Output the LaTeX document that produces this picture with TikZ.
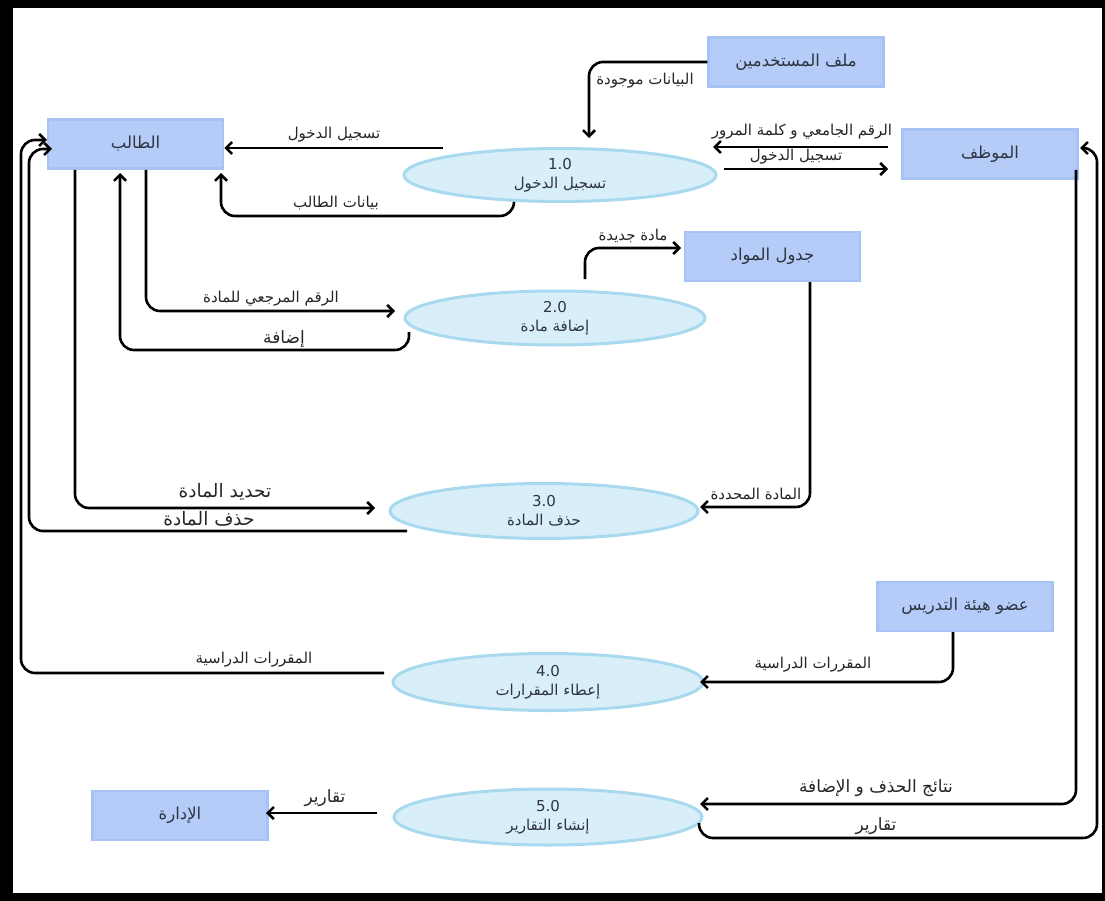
\documentclass[tikz,border=0pt]{standalone}
\usepackage{fontspec}
\setmainfont{DejaVu Sans}
\newfontfamily\arabicfont[Script=Arabic]{DejaVu Sans}
\TeXXeTstate=1
\usetikzlibrary{arrows.meta,shapes.geometric}
\definecolor{boxfill}{HTML}{B5CCF9}
\definecolor{boxline}{HTML}{A7C2F4}
\definecolor{ellfill}{HTML}{D8EFF9}
\definecolor{ellline}{HTML}{A9D9EE}
\definecolor{txt}{HTML}{2E3440}
\newcommand\artxt[1]{{\arabicfont\beginR #1\endR}}
\begin{document}
\begin{tikzpicture}[x=1pt,y=-1pt,
  entity/.style={draw=boxline, line width=2.5pt, fill=boxfill, minimum width=175pt, minimum height=49pt, inner sep=0pt, font=\fontsize{16.5}{18}\selectfont, text=txt},
  proc/.style={ellipse, draw=ellline, line width=3pt, fill=ellfill, align=center, inner sep=0pt, font=\fontsize{15}{19}\selectfont, text=txt},
  flow/.style={line width=2.6pt, rounded corners=14pt, -{Straight Barb[length=6pt,width=12pt]}},
  lbl/.style={inner sep=0pt, font=\fontsize{15}{16}\selectfont, text=black!85},
  biglbl/.style={lbl, font=\fontsize{17}{18}\selectfont},
  hugelbl/.style={lbl, font=\fontsize{18.5}{20}\selectfont}
]
\fill[black] (0,0) rectangle (1105,901);
\fill[white] (13,8) rectangle (1102,893);
\useasboundingbox (0,0) rectangle (1105,901);

% entities
\node[entity] (student) at (135.5,144) {\artxt{الطالب}};
\node[entity] (users) at (796,62) {\artxt{ملف المستخدمين}};
\node[entity] (emp) at (990,154) {\artxt{الموظف}};
\node[entity] (table) at (772.5,256.5) {\artxt{جدول المواد}};
\node[entity] (fac) at (965,606.5) {\artxt{عضو هيئة التدريس}};
\node[entity] (admin) at (180,815.5) {\artxt{الإدارة}};

% processes
\node[proc, minimum width=312pt, minimum height=53pt] (p1) at (560,175) {1.0\\\artxt{تسجيل الدخول}};
\node[proc, minimum width=300pt, minimum height=54pt] (p2) at (555,318) {2.0\\\artxt{إضافة مادة}};
\node[proc, minimum width=308pt, minimum height=55pt] (p3) at (544,511) {3.0\\\artxt{حذف المادة}};
\node[proc, minimum width=310pt, minimum height=57pt] (p4) at (548,682) {4.0\\\artxt{إعطاء المقرارات}};
\node[proc, minimum width=308pt, minimum height=56pt] (p5) at (548,817) {5.0\\\artxt{إنشاء التقارير}};

% free ends
\coordinate (a1) at (589,138);
\coordinate (b1) at (443,148);
\coordinate (c1) at (514,202);
\coordinate (d1) at (888,147);
\coordinate (d2) at (713,147);
\coordinate (e1) at (724,169);
\coordinate (e2) at (888,169);
\coordinate (f2) at (395,311);
\coordinate (g1) at (409,332);
\coordinate (h1) at (585,279);
\coordinate (i2) at (700,507);
\coordinate (j2) at (375,508);
\coordinate (k1) at (407,531);
\coordinate (l1) at (384,673);
\coordinate (m2) at (700,682);
\coordinate (n1) at (377,813);
\coordinate (o2) at (700,804);
\coordinate (q1) at (699,823);

% flows
\draw[flow] (users.west) -| (a1);
\node[lbl] (t1) at (645,81) {\artxt{البيانات موجودة}};

\draw[flow] (b1) -- (b1 -| student.east);
\node[lbl] (t2) at (334,135) {\artxt{تسجيل الدخول}};

\draw[flow] (c1) |- (221,216) -- (221,173);
\node[lbl] (t3) at (336,203) {\artxt{بيانات الطالب}};

\draw[flow] (d1) -- (d2);
\node[lbl] (t4) at (802,132) {\artxt{الرقم الجامعي و كلمة المرور}};

\draw[flow] (e1) -- (e2);
\node[lbl] (t5) at (796,157) {\artxt{تسجيل الدخول}};

\draw[flow] (146,170) |- (f2);
\node[lbl] (t6) at (271,299) {\artxt{الرقم المرجعي للمادة}};

\draw[flow] (g1) |- (120,350) -- (120,173);
\node[biglbl] (t7) at (284,339) {\artxt{إضافة}};

\draw[flow] (h1) |- (681,248);
\node[lbl] (t8) at (633,236) {\artxt{مادة جديدة}};

\draw[flow] (810,282) |- (i2);
\node[lbl] (t9) at (756,494) {\artxt{المادة المحددة}};

\draw[flow] (75,170) |- (j2);
\node[hugelbl] (t10) at (225,492) {\artxt{تحديد المادة}};

\draw[flow] (k1) -| (29,149) -- (52,149);
\node[hugelbl] (t11) at (209,519) {\artxt{حذف المادة}};

\draw[flow] (l1) -| (21,140) -- (47,140);
\node[lbl] (t12) at (254,660) {\artxt{المقررات الدراسية}};

\draw[flow] (953,632) |- (m2);
\node[lbl] (t13) at (813,665) {\artxt{المقررات الدراسية}};

\draw[flow] (n1) -- (266,813);
\node[biglbl] (t14) at (325,798) {\artxt{تقارير}};

\draw[flow] (1076,170) |- (o2);
\node[biglbl] (t15) at (876,788) {\artxt{نتائج الحذف و الإضافة}};

\draw[flow] (q1) |- (1097,838) |- (1080,148);
\node[biglbl] (t16) at (876,826) {\artxt{تقارير}};
\end{tikzpicture}
\end{document}
